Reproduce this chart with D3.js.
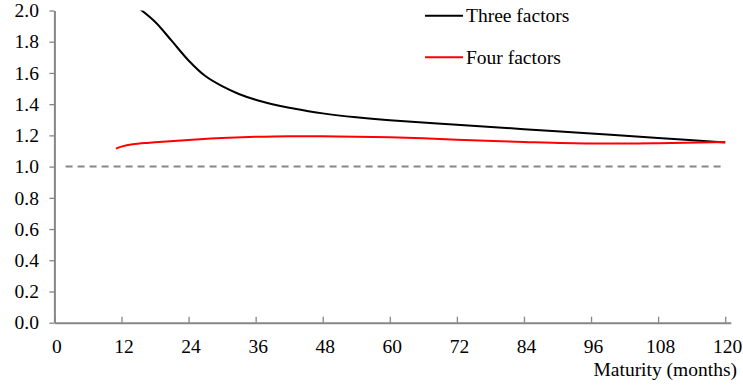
<!DOCTYPE html>
<html><head><meta charset="utf-8">
<script src="https://cdn.jsdelivr.net/npm/d3@7"></script>
<style>body{margin:0;background:#fff}svg{display:block}
svg text{font-family:'Liberation Serif','Times New Roman',serif !important;}</style>
</head><body>
<script>
const maturityThree = [12, 15, 18, 21, 24, 27, 30, 33, 36, 39, 42, 45, 48, 54, 60, 72, 84, 96, 108, 120];
const threeFactors  = [2.10, 2.018, 1.928, 1.805, 1.68, 1.58, 1.515, 1.465, 1.428, 1.40, 1.377, 1.358, 1.341, 1.316, 1.297, 1.268, 1.240, 1.212, 1.184, 1.155];
const maturityFour  = [11, 12, 14, 17, 20, 24, 30, 36, 42, 48, 54, 60, 66, 72, 84, 96, 108, 120];
const fourFactors   = [1.115, 1.128, 1.143, 1.153, 1.161, 1.171, 1.183, 1.191, 1.195, 1.194, 1.192, 1.188, 1.181, 1.172, 1.158, 1.148, 1.150, 1.157];
const xTicks = [0, 12, 24, 36, 48, 60, 72, 84, 96, 108, 120];
const yTicks = [0, 0.2, 0.4, 0.6, 0.8, 1.0, 1.2, 1.4, 1.6, 1.8, 2.0];
const refLevel = 1.0;
const refRange = [2, 120];
const seriesNames = ["Three factors", "Four factors"];
const seriesColors = ["#000000", "#ff0000"];

const W = 743, H = 385;
const font = "'Liberation Serif', 'Times New Roman', serif";
const fs = 19.5;
const svg = d3.select("body").append("svg").attr("width", W).attr("height", H);

const x = d3.scaleLinear().domain([0, 121]).range([54.4, 730.8]);
const y = d3.scaleLinear().domain([0, 2]).range([322.7, 10.5]);
const axisColor = "#868686";

svg.append("clipPath").attr("id", "plot").append("rect")
  .attr("x", x(0)).attr("y", y(2)).attr("width", x(121) - x(0)).attr("height", y(0) - y(2));

// reference dashed line
svg.append("line")
  .attr("x1", x(refRange[0])).attr("x2", x(refRange[1]))
  .attr("y1", y(refLevel)).attr("y2", y(refLevel))
  .attr("stroke", "#878787").attr("stroke-width", 2).attr("stroke-dasharray", "7,5");

// axes
const gx = svg.append("g").attr("transform", `translate(0,${y(0)})`)
  .call(d3.axisBottom(x).tickValues(xTicks).tickSize(-6).tickSizeOuter(0).tickPadding(16.5));
const gy = svg.append("g").attr("transform", `translate(${x(0)},0)`)
  .call(d3.axisLeft(y).tickValues(yTicks).tickSize(5).tickSizeOuter(0).tickPadding(10.5).tickFormat(d3.format(".1f")));
[gx, gy].forEach(ax => {
  ax.attr("font-family", font).attr("font-size", fs);
  ax.select(".domain").attr("stroke", axisColor).attr("stroke-width", 2);
  ax.selectAll(".tick line").attr("stroke", axisColor).attr("stroke-width", 1.3);
  ax.selectAll("text").style("font-family", font).style("font-size", fs + "px").attr("fill", "#000");
});
gx.selectAll(".tick text").attr("dx", 2);

// lines
const line = d3.line().x(d => x(d[0])).y(d => y(d[1])).curve(d3.curveCatmullRom.alpha(0.5));
const plot = svg.append("g").attr("clip-path", "url(#plot)");
plot.append("path").datum(maturityThree.map((m, i) => [m, threeFactors[i]]))
  .attr("d", line).attr("fill", "none").attr("stroke", seriesColors[0]).attr("stroke-width", 2);
plot.append("path").datum(maturityFour.map((m, i) => [m, fourFactors[i]]))
  .attr("d", line).attr("fill", "none").attr("stroke", seriesColors[1]).attr("stroke-width", 2);

// legend
const legY = [15.7, 57.3];
seriesNames.forEach((n, i) => {
  svg.append("line").attr("x1", 425).attr("x2", 463).attr("y1", legY[i]).attr("y2", legY[i])
    .attr("stroke", seriesColors[i]).attr("stroke-width", 2);
  svg.append("text").attr("x", 466).attr("y", legY[i] + 6.5).text(n)
    .style("font-size", fs + "px").attr("fill", "#000");
});

// axis title
svg.append("text").attr("x", 737).attr("y", 376).attr("text-anchor", "end")
  .style("font-size", fs + "px").attr("fill", "#000").text("Maturity (months)");
</script>
</body></html>
